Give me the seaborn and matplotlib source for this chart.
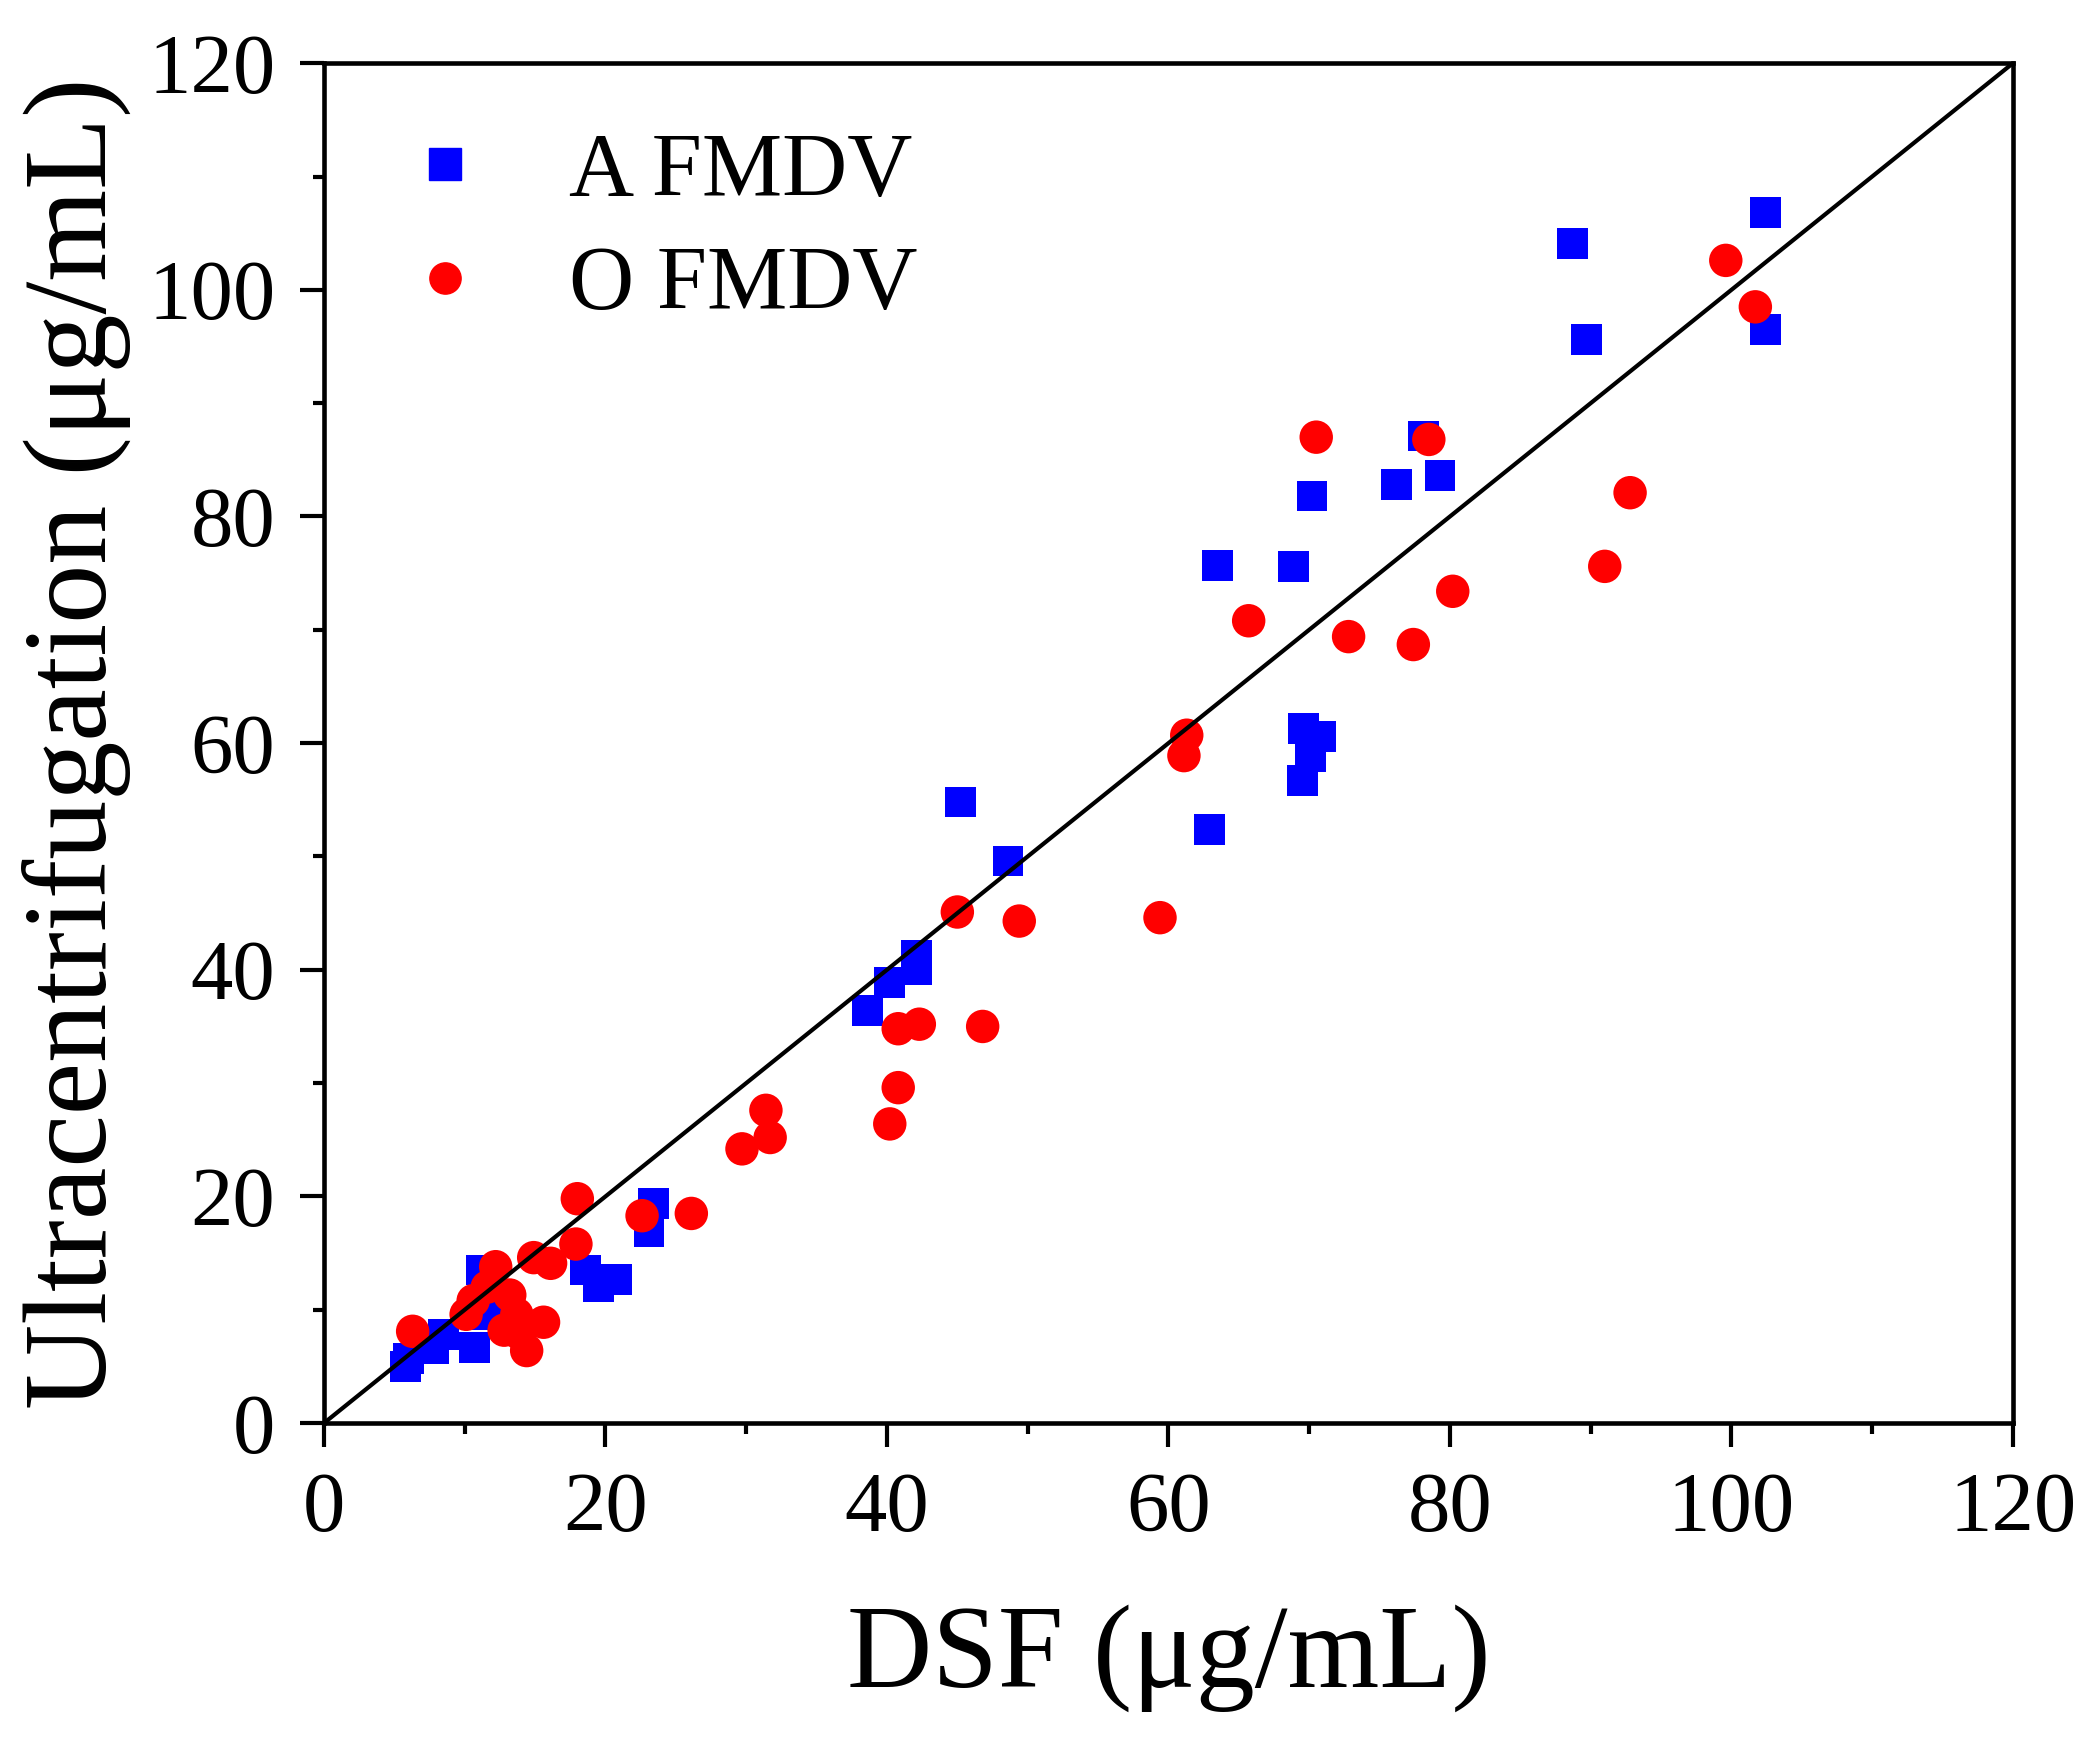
import matplotlib
matplotlib.use("Agg")
import matplotlib.pyplot as plt
from matplotlib.lines import Line2D
from matplotlib.ticker import MultipleLocator
import pandas as pd
import seaborn as sns

# A FMDV: DSF vs ultracentrifugation (ug/mL)
a_dsf = [5.8, 6.0, 7.8, 8.5, 10.7, 11.2, 11.6, 18.6, 19.5, 20.8, 23.4, 23.1,
         38.6, 40.2, 42.1, 42.1, 45.2, 48.6, 62.9, 69.5, 70.1, 70.8, 69.6,
         63.5, 68.9, 70.2, 76.2, 79.3, 78.1, 88.7, 89.7, 102.4, 102.4]
a_uc = [5.0, 5.7, 6.6, 7.8, 6.7, 13.5, 9.6, 13.5, 12.0, 12.7, 19.4, 16.9,
        36.4, 38.9, 41.3, 40.0, 54.8, 49.6, 52.4, 56.7, 58.8, 60.6, 61.3,
        75.7, 75.6, 81.8, 82.8, 83.6, 87.1, 104.1, 95.6, 96.5, 106.8]

# O FMDV
o_dsf = [6.3, 10.1, 10.6, 11.6, 12.2, 13.2, 13.7, 12.8, 13.9, 14.4, 15.6,
         14.9, 16.1, 17.9, 18.0, 22.6, 26.1, 29.7, 31.4, 31.7, 40.2, 40.8,
         40.8, 42.3, 46.8, 45.0, 49.4, 59.4, 61.1, 61.3, 65.7, 70.5, 72.8,
         77.4, 78.5, 80.2, 91.0, 92.8, 99.6, 101.7]
o_uc = [8.1, 9.6, 10.8, 12.0, 13.8, 11.3, 9.6, 8.2, 7.9, 6.4, 8.9,
        14.6, 14.1, 15.8, 19.8, 18.3, 18.5, 24.2, 27.6, 25.2, 26.4, 29.6,
        34.8, 35.2, 35.0, 45.1, 44.3, 44.6, 58.9, 60.7, 70.8, 87.0, 69.4,
        68.7, 86.8, 73.4, 75.6, 82.1, 102.6, 98.5]

# 1:1 reference line
line_x = [0, 120]
line_y = [0, 120]

labels = ["A FMDV", "O FMDV"]
colors = {"A FMDV": "#0000ff", "O FMDV": "#ff0000"}
markers = {"A FMDV": "s", "O FMDV": "o"}

df = pd.DataFrame({
    "dsf": a_dsf + o_dsf,
    "uc": a_uc + o_uc,
    "virus": [labels[0]] * len(a_dsf) + [labels[1]] * len(o_dsf),
})

sns.set_style("ticks")
plt.rcParams["font.family"] = ["Liberation Serif", "DejaVu Serif"]
plt.rcParams["text.color"] = "black"
plt.rcParams["axes.labelcolor"] = "black"
plt.rcParams["xtick.color"] = "black"
plt.rcParams["ytick.color"] = "black"

fig = plt.figure(figsize=(20.97, 17.41), dpi=100)
ax = fig.add_axes([0.1545, 0.1826, 0.8054, 0.7811])

sns.scatterplot(data=df, x="dsf", y="uc", hue="virus", style="virus",
                palette=colors, markers=markers, size="virus",
                sizes={"A FMDV": 490, "O FMDV": 580}, linewidth=0,
                legend=False, ax=ax, zorder=2)
sns.lineplot(x=line_x, y=line_y, color="black", linewidth=3.0, ax=ax, zorder=3)

ax.set_xlim(0, 120)
ax.set_ylim(0, 120)
ax.xaxis.set_major_locator(MultipleLocator(20))
ax.xaxis.set_minor_locator(MultipleLocator(10))
ax.yaxis.set_major_locator(MultipleLocator(20))
ax.yaxis.set_minor_locator(MultipleLocator(10))
ax.tick_params(which="major", direction="out", length=17, width=3,
               labelsize=61, pad=18, colors="black")
ax.tick_params(which="minor", direction="out", length=8, width=3)
ax.tick_params(top=False, right=False, which="both")
for sp in ax.spines.values():
    sp.set_visible(True)
    sp.set_linewidth(3.3)
    sp.set_color("black")

ax.set_xlabel("DSF (μg/mL)", fontsize=85, labelpad=40)
ax.set_ylabel("Ultracentrifugation (μg/mL)", fontsize=85, labelpad=12)

handles = [Line2D([], [], ls="", marker=markers[l], color=colors[l],
                  markersize=22.5) for l in labels]
ax.legend(handles, labels, loc="upper left", bbox_to_anchor=(0.045, 0.949),
          frameon=False, fontsize=65, handlelength=1.0, handletextpad=0.87,
          borderpad=0, borderaxespad=0, labelspacing=0.34)

fig.savefig("out.png", dpi=100)
